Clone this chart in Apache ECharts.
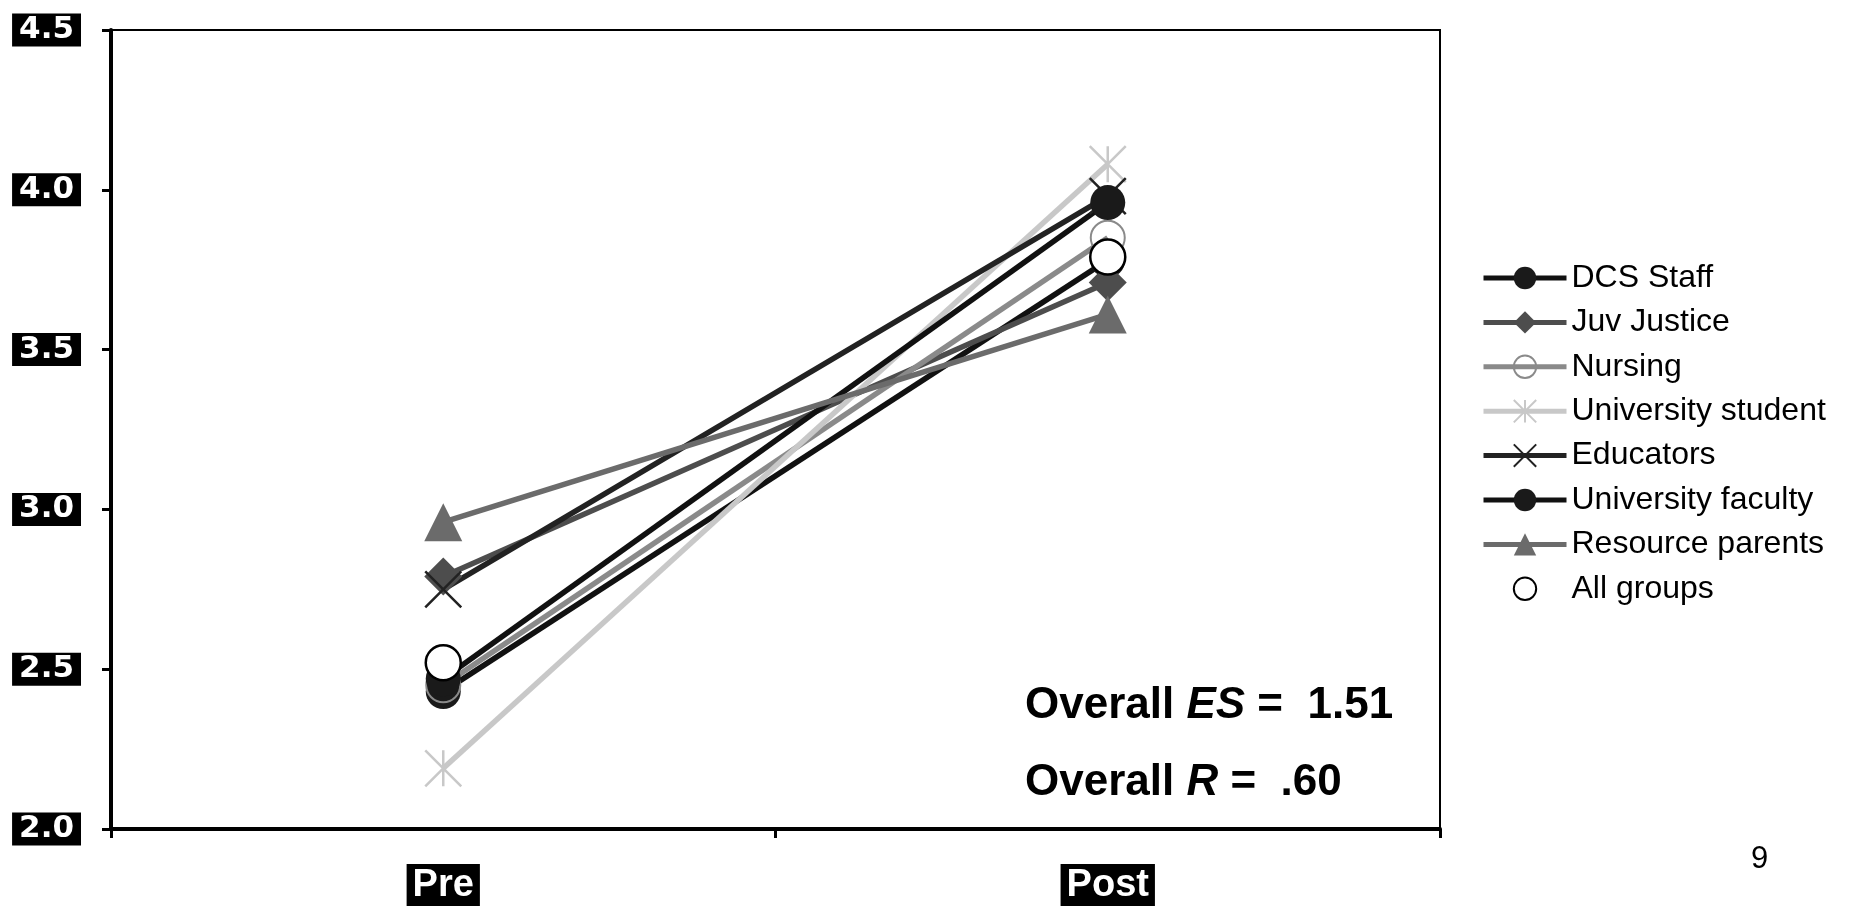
<!DOCTYPE html>
<html>
<head>
<meta charset="utf-8">
<script src="https://cdn.jsdelivr.net/npm/echarts@6/dist/echarts.min.js"></script>
<style>
html,body{margin:0;padding:0;background:#fff;}
#chart{width:1870px;height:906px;}
</style>
</head>
<body>
<div id="chart"></div>
<script>
const categories = ['Pre', 'Post'];
const yTicks = [2.0, 2.5, 3.0, 3.5, 4.0, 4.5];
const dcsStaff = [2.43, 3.78];
const juvJustice = [2.79, 3.71];
const nursing = [2.45, 3.85];
const univStudent = [2.19, 4.08];
const educators = [2.75, 3.98];
const univFaculty = [2.47, 3.96];
const resourceParents = [2.96, 3.61];
const allGroups = [2.52, 3.79];
const annotations = ['Overall {i|ES} =  1.51', 'Overall {i|R} =  .60'];
const pageNumber = '9';

const xPath = 'path://M0 0 L20 20 M20 0 L0 20';
const starPath = 'path://M0 0 L20 20 M20 0 L0 20 M10 0 L10 20';

function mk(name, data, lineColor, symbol, size, itemStyle, lineWidth) {
  return {
    name: name, type: 'line', data: data,
    symbol: symbol, symbolSize: size, showSymbol: true,
    lineStyle: { color: lineColor, width: lineWidth === undefined ? 5.5 : lineWidth },
    itemStyle: itemStyle,
    emphasis: { disabled: true },
    animation: false, z: 3
  };
}

const series = [
  mk('DCS Staff', dcsStaff, '#111111', 'circle', 35, { color: '#1a1a1a' }),
  mk('Juv Justice', juvJustice, '#4d4d4d', 'diamond', 38, { color: '#4d4d4d' }),
  mk('Nursing', nursing, '#8a8a8a', 'circle', 34, { color: 'rgba(255,255,255,0)', borderColor: '#8a8a8a', borderWidth: 2 }),
  mk('University student', univStudent, '#c8c8c8', starPath, 36, { color: '#c8c8c8', borderColor: '#c8c8c8', borderWidth: 2.5 }),
  mk('Educators', educators, '#222222', xPath, 36, { color: '#222222', borderColor: '#222222', borderWidth: 2.5 }),
  mk('University faculty', univFaculty, '#111111', 'circle', 35, { color: '#1a1a1a' }),
  mk('Resource parents', resourceParents, '#6b6b6b', 'triangle', 38, { color: '#6b6b6b' }),
  mk('All groups', allGroups, 'rgba(0,0,0,0)', 'circle', 35, { color: '#ffffff', borderColor: '#000000', borderWidth: 2.5 }, 0)
];

const chart = echarts.init(document.getElementById('chart'), null, { renderer: 'canvas' });
chart.setOption({
  backgroundColor: '#ffffff',
  animation: false,
  grid: { left: 111, right: 430, top: 30, bottom: 76, show: true, borderColor: '#000', borderWidth: 2 },
  xAxis: {
    type: 'category', data: categories, boundaryGap: true,
    axisLine: { lineStyle: { color: '#000', width: 4 } },
    axisTick: { show: true, length: 9, lineStyle: { color: '#000', width: 3 } },
    axisLabel: {
      margin: 35, color: '#fff', backgroundColor: '#000',
      fontFamily: 'Liberation Sans', fontWeight: 'bold', fontSize: 38,
      padding: [3, 6, 1, 6], lineHeight: 38
    },
    splitLine: { show: false }
  },
  yAxis: {
    type: 'value', min: yTicks[0], max: yTicks[yTicks.length - 1], interval: 0.5,
    axisLine: { show: true, lineStyle: { color: '#000', width: 4 } },
    axisTick: { show: true, length: 9, lineStyle: { color: '#000', width: 3 } },
    axisLabel: {
      margin: 30, color: '#fff', backgroundColor: '#000',
      fontFamily: 'DejaVu Sans', fontWeight: 'bold', fontSize: 31,
      padding: [2, 7, 0, 7], lineHeight: 31,
      formatter: function (v) { return v.toFixed(1); }
    },
    splitLine: { show: false }
  },
  legend: {
    orient: 'vertical', left: 1476, top: 257,
    itemWidth: 83, itemHeight: 28, itemGap: 12.4,
    selectedMode: false,
    lineStyle: { width: 5 },
    textStyle: { fontFamily: 'Liberation Sans', fontSize: 32, color: '#000', padding: [0, 0, 0, 0], lineHeight: 27 },
    data: series.map(s => s.name)
  },
  graphic: [
    {
      type: 'text', left: 1025, top: 684, silent: true,
      style: {
        text: annotations[0], fill: '#000',
        font: 'bold 44px "Liberation Sans"',
        rich: { i: { fontStyle: 'italic', fontWeight: 'bold', fontSize: 44, fontFamily: 'Liberation Sans', fill: '#000' } }
      }
    },
    {
      type: 'text', left: 1025, top: 761, silent: true,
      style: {
        text: annotations[1], fill: '#000',
        font: 'bold 44px "Liberation Sans"',
        rich: { i: { fontStyle: 'italic', fontWeight: 'bold', fontSize: 44, fontFamily: 'Liberation Sans', fill: '#000' } }
      }
    },
    {
      type: 'text', left: 1751, top: 844, silent: true,
      style: { text: pageNumber, fill: '#000', font: '31px "Liberation Sans"' }
    }
  ],
  series: series
});
</script>
</body>
</html>
